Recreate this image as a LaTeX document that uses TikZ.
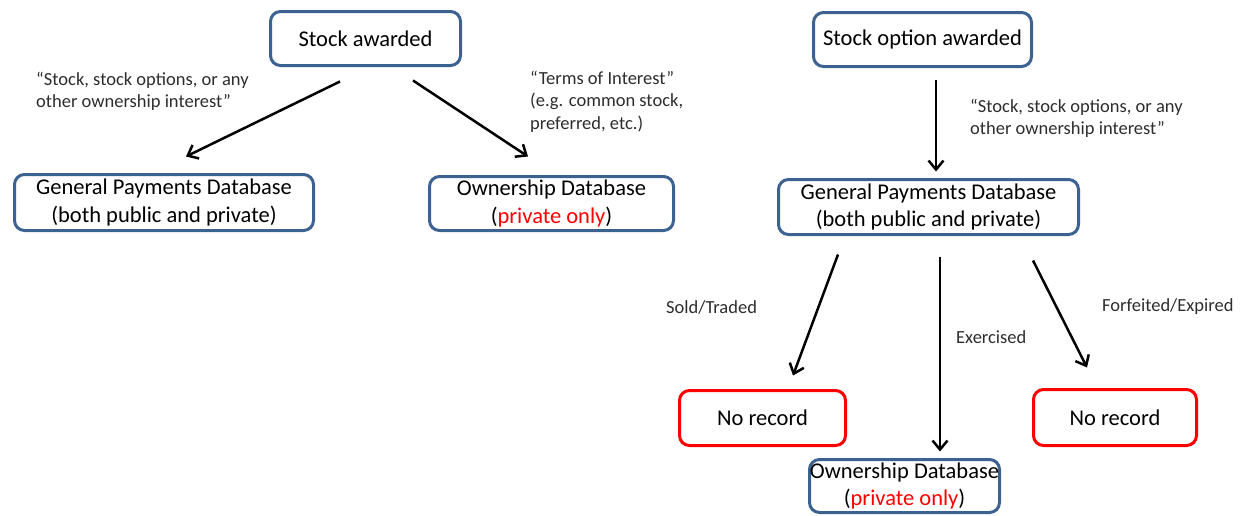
\documentclass[tikz,border=0pt]{standalone}
\usepackage{fontspec}
\setmainfont{Carlito}
\usetikzlibrary{arrows.meta,calc}
\definecolor{boxblue}{RGB}{60,98,145}
\definecolor{labelgray}{RGB}{45,45,45}
\tikzset{
  box/.style={draw=boxblue, line width=3pt, rounded corners=10pt, fill=white,
    align=center, inner sep=0pt, text=black,
    font=\fontsize{22.5}{27.5}\selectfont},
  redbox/.style={box, draw=red},
  lbl/.style={font=\fontsize{18.5}{22.5}\selectfont, text=labelgray,
    align=left, inner sep=0pt, anchor=west},
  arr/.style={line width=2.5pt, -{Straight Barb[length=9pt,width=15pt]}},
}
\begin{document}
\begin{tikzpicture}[x=1pt,y=-1pt]
\useasboundingbox (0,0) rectangle (1242,515);

% left flow: stock awarded
\node[box, minimum width=190pt, minimum height=54pt] (sa) at (365.5,38.5) {Stock awarded};
\node[box, minimum width=299pt, minimum height=56pt] (gpd1) at (164,202.5)
  {General Payments Database\\(both public and private)};
\node[box, minimum width=244pt, minimum height=54pt] (own1) at (551.5,203.5)
  {Ownership Database\\({\color{red}private only})};

\draw[arr] ($(sa.south)+(-25.5,14.5)$) -- ($(gpd1.north)+(22,-16.5)$);
\draw[arr] ($(sa.south)+(47.5,13.5)$) -- ($(own1.north)+(-23.5,-18.5)$);

\node[lbl] (l1) at (36,91.5) {“Stock, stock options, or any\\other ownership interest”};
\node[lbl] (l2) at (530,101.5) {“Terms of Interest”\\(e.g. common stock,\\preferred, etc.)};

% right flow: stock option awarded
\node[box, minimum width=218pt, minimum height=54pt] (soa) at (922.5,39.5) {Stock option awarded};
\node[box, minimum width=300pt, minimum height=55pt] (gpd2) at (928.5,207)
  {General Payments Database\\(both public and private)};
\node[redbox, minimum width=166pt, minimum height=55pt] (nr1) at (762.5,418) {No record};
\node[redbox, minimum width=163pt, minimum height=56pt] (nr2) at (1115,417.5) {No record};
\node[box, minimum width=190pt, minimum height=53pt] (own2) at (904.5,486)
  {Ownership Database\\({\color{red}private only})};

\draw[arr] ($(soa.south)+(13.5,11.5)$) -- ($(gpd2.north)+(7.5,-6.5)$);
\draw[arr] ($(gpd2.south)+(-90.5,18.5)$) -- ($(nr1.north)+(30.5,-13.5)$);
\draw[arr] ($(gpd2.south)+(11.5,20.5)$) -- ($(own2.north)+(35.5,-6.5)$);
\draw[arr] ($(gpd2.south)+(104.5,24.5)$) -- ($(nr2.north)+(-28,-20.5)$);

\node[lbl] (l3) at (970,118.5) {“Stock, stock options, or any\\other ownership interest”};
\node[lbl] (sold) at (666,307) {Sold/Traded};
\node[lbl] (exer) at (956,337) {Exercised};
\node[lbl] (forf) at (1102,307) {Forfeited/Expired};
\end{tikzpicture}
\end{document}
